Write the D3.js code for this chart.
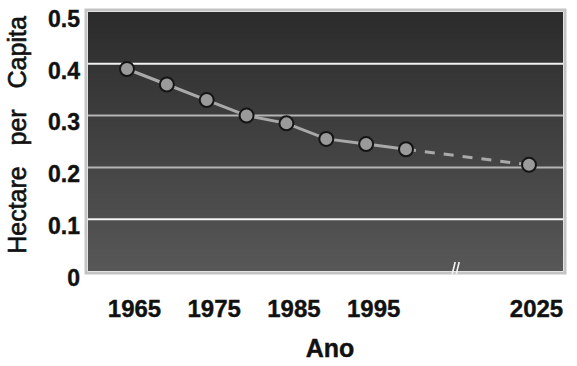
<!DOCTYPE html>
<html>
<head>
<meta charset="utf-8">
<script src="https://cdn.jsdelivr.net/npm/d3@7"></script>
<style>
  body { margin: 0; background: #fff; }
  text { font-family: "Liberation Sans", Arial, sans-serif; }
</style>
</head>
<body>
<div id="chart"></div>
<script>
// data
var years = [1965, 1970, 1975, 1980, 1985, 1990, 1995, 2000, 2025];
var hectares = [0.39, 0.36, 0.33, 0.30, 0.285, 0.255, 0.245, 0.235, 0.205];
var yearLabels = [1965, 1975, 1985, 1995, 2025];
var yTicks = [0, 0.1, 0.2, 0.3, 0.4, 0.5];
var lastMeasured = 2000;   // after this the line is a projection (dashed)
var breakYear = 2010;      // axis break mark

var width = 577, height = 366;
var plotLeft = 88, plotRight = 563, plotTop = 12, plotBottom = 271;

var svg = d3.select("#chart")
  .append("svg")
  .attr("width", width)
  .attr("height", height);

// x axis is broken between 2000 and 2025, so a piecewise scale
var x = d3.scaleLinear()
  .domain([1965, 2000, 2025])
  .range([127, 406, 529]);

var y = d3.scaleLinear()
  .domain([0, 0.5])
  .range([plotBottom, plotTop]);

// background gradient
var grad = svg.append("defs").append("linearGradient")
  .attr("id", "bg")
  .attr("x1", 0).attr("y1", 0).attr("x2", 0).attr("y2", 1);
grad.append("stop").attr("offset", "0%").attr("stop-color", "#2b2b2b");
grad.append("stop").attr("offset", "100%").attr("stop-color", "#575757");

svg.append("rect")
  .attr("x", plotLeft).attr("y", plotTop)
  .attr("width", plotRight - plotLeft).attr("height", plotBottom - plotTop)
  .attr("fill", "url(#bg)");

// grid lines
svg.selectAll("line.grid")
  .data(yTicks.filter(function(d){ return d > 0 && d < 0.5; }))
  .enter()
  .append("line")
  .attr("class", "grid")
  .attr("x1", plotLeft).attr("x2", plotRight)
  .attr("y1", function(d){ return y(d); })
  .attr("y2", function(d){ return y(d); })
  .attr("stroke", function(d){ return (d == 0.1 || d == 0.4) ? "#f2f2f2" : "#b4b4b4"; })
  .attr("stroke-width", 2);

// frame
svg.append("rect")
  .attr("x", plotLeft - 2).attr("y", plotTop - 2)
  .attr("width", plotRight - plotLeft + 4).attr("height", plotBottom - plotTop + 4)
  .attr("fill", "none")
  .attr("stroke", "#c4c4c4")
  .attr("stroke-width", 3);

// axis break mark
var bx = x(breakYear);
svg.append("path")
  .attr("d", "M" + (bx - 3) + "," + (plotBottom + 3) + "L" + (bx) + "," + (plotBottom - 9)
     + "M" + (bx + 1) + "," + (plotBottom + 3) + "L" + (bx + 4) + "," + (plotBottom - 9))
  .attr("stroke", "#f4f4f4")
  .attr("stroke-width", 1.6)
  .attr("fill", "none");

// line: solid for measured, dashed for projection
var pts = years.map(function(d, i){ return {year: d, value: hectares[i]}; });
var line = d3.line()
  .x(function(d){ return x(d.year); })
  .y(function(d){ return y(d.value); });

svg.append("path")
  .datum(pts.filter(function(d){ return d.year <= lastMeasured; }))
  .attr("d", line)
  .attr("fill", "none")
  .attr("stroke", "#a9a9a9")
  .attr("stroke-width", 3);

svg.append("path")
  .datum(pts.filter(function(d){ return d.year >= lastMeasured; }))
  .attr("d", line)
  .attr("fill", "none")
  .attr("stroke", "#a9a9a9")
  .attr("stroke-width", 3)
  .attr("stroke-dasharray", "10,9");

svg.selectAll("circle")
  .data(pts)
  .enter()
  .append("circle")
  .attr("cx", function(d){ return x(d.year); })
  .attr("cy", function(d){ return y(d.value); })
  .attr("r", 7)
  .attr("fill", "#9a9a9a")
  .attr("stroke", "#151515")
  .attr("stroke-width", 2);

// y axis labels
var yAxis = d3.axisLeft(y)
  .tickValues(yTicks)
  .tickSize(0)
  .tickPadding(0)
  .tickFormat(function(d){ return d == 0 ? "0" : d3.format(".1f")(d); });

var gy = svg.append("g")
  .attr("transform", "translate(80,7)")
  .call(yAxis);
gy.select(".domain").remove();
gy.selectAll("text")
  .attr("font-size", 23)
  .attr("font-weight", "bold")
  .attr("fill", "#111")
  .attr("stroke", "#111")
  .attr("stroke-width", 0.4)
  .style("font-family", "'Liberation Sans', Arial, sans-serif");

// x axis labels
var xAxis = d3.axisBottom(x)
  .tickValues(yearLabels)
  .tickSize(0)
  .tickPadding(0)
  .tickFormat(d3.format("d"));

var gx = svg.append("g")
  .attr("transform", "translate(7,300)")
  .call(xAxis);
gx.select(".domain").remove();
gx.selectAll("text")
  .attr("font-size", 24)
  .attr("font-weight", "bold")
  .attr("fill", "#111")
  .attr("stroke", "#111")
  .attr("stroke-width", 0.4)
  .style("font-family", "'Liberation Sans', Arial, sans-serif");

// axis titles
svg.append("text")
  .attr("x", 330).attr("y", 357)
  .attr("text-anchor", "middle")
  .attr("font-size", 25)
  .attr("font-weight", "bold")
  .attr("fill", "#111")
  .attr("stroke", "#111")
  .attr("stroke-width", 0.4)
  .text("Ano");

svg.append("text")
  .attr("transform", "translate(26,135) rotate(-90)")
  .attr("text-anchor", "middle")
  .attr("font-size", 25)
  .attr("fill", "#111")
  .attr("stroke", "#111")
  .attr("stroke-width", 0.6)
  .style("white-space", "pre")
  .text("Hectare   per   Capita");
</script>
</body>
</html>
